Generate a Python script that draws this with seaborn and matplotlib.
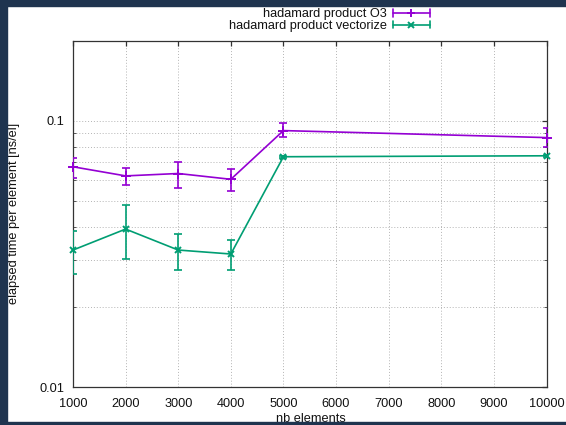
import numpy as np
import pandas as pd
import matplotlib
matplotlib.use("Agg")
import matplotlib.pyplot as plt
import seaborn as sns
from matplotlib.lines import Line2D
from matplotlib.legend_handler import HandlerBase
from matplotlib.patches import Rectangle
from matplotlib.ticker import FixedLocator, NullFormatter, FixedFormatter, LogLocator

# ---- data ----
nb_elements = [1000, 2000, 3000, 4000, 5000, 10000]
o3_time = [0.0672, 0.0621, 0.0634, 0.0603, 0.0919, 0.0865]
o3_low = [0.0609, 0.0572, 0.0561, 0.0545, 0.0872, 0.0795]
o3_high = [0.0728, 0.0665, 0.0698, 0.0662, 0.0980, 0.0938]
vec_time = [0.0327, 0.0392, 0.0327, 0.0316, 0.0733, 0.0739]
vec_low = [0.0265, 0.0302, 0.0275, 0.0275, 0.0727, 0.0733]
vec_high = [0.0386, 0.0481, 0.0377, 0.0357, 0.0740, 0.0745]
series_labels = ["hadamard product O3", "hadamard product vectorize"]
x_ticks = [1000, 2000, 3000, 4000, 5000, 6000, 7000, 8000, 9000, 10000]
y_ticks = [0.01, 0.1]
y_tick_labels = ["0.01", "0.1"]

PURPLE = "#9400D3"
GREEN = "#009E73"
NAVY = "#1f344f"
FS = 9.2

sns.set_style("white")
plt.rcParams["font.family"] = ["Liberation Sans", "DejaVu Sans"]

fig = plt.figure(figsize=(5.66, 4.25), dpi=100)
ax = fig.add_axes([73 / 566, 1 - 387 / 425, (546.5 - 73) / 566, (387 - 40.7) / 425])
ax.set_yscale("log")

df = pd.DataFrame({"x": nb_elements * 2,
                   "y": o3_time + vec_time,
                   "series": [series_labels[0]] * len(nb_elements) + [series_labels[1]] * len(nb_elements)})

styles = [(series_labels[0], PURPLE, "+", o3_time, o3_low, o3_high, 7),
          (series_labels[1], GREEN, "x", vec_time, vec_low, vec_high, 4.5)]

for lab, col, mk, y, lo, hi, ms in styles:
    sub = df[df["series"] == lab]
    sns.lineplot(data=sub, x="x", y="y", ax=ax, color=col, lw=1.2, marker=mk,
                 markersize=ms, markeredgewidth=1.4, markeredgecolor=col,
                 legend=False, clip_on=False, zorder=4)
    y = np.array(y); lo = np.array(lo); hi = np.array(hi)
    ax.errorbar(nb_elements, y, yerr=[y - lo, hi - y], fmt="none", ecolor=col,
                elinewidth=1.2, capsize=2.6, capthick=1.2, zorder=3)

ax.set_xlim(1000, 10000)
ax.set_ylim(0.01, 0.2)
ax.xaxis.set_major_locator(FixedLocator(x_ticks))
ax.set_xticklabels([str(t) for t in x_ticks])
ax.yaxis.set_major_locator(FixedLocator(y_ticks))
ax.yaxis.set_major_formatter(FixedFormatter(y_tick_labels))
ax.yaxis.set_minor_locator(LogLocator(base=10, subs=np.arange(2, 10)))
ax.yaxis.set_minor_formatter(NullFormatter())
ax.set_xlabel("")
ax.set_ylabel("")

ax.grid(True, which="major", axis="both", color="#b4b4b4", ls=(0, (1, 2)), lw=0.7)
ax.grid(True, which="minor", axis="y", color="#b4b4b4", ls=(0, (1, 2)), lw=0.7)
ax.tick_params(which="major", direction="in", length=3.5, width=0.9, color="#333333",
               top=True, right=True, labelsize=FS, labelcolor="#111111")
ax.tick_params(which="minor", direction="in", length=2, width=0.7, color="#555555",
               left=True, right=True)
ax.tick_params(axis="y", pad=6.5)
ax.tick_params(axis="x", pad=7.8)
for s in ax.spines.values():
    s.set_color("#333333")
    s.set_linewidth(0.9)
    s.set_visible(True)

fig.text(14.5 / 566, 1 - 213 / 425, "elapsed time per element [ns/el]", rotation=90,
         ha="center", va="center", fontsize=FS, color="#111111")
fig.text(311 / 566, 1 - 421.5 / 425, "nb elements", ha="center", va="baseline",
         fontsize=FS, color="#111111")


class GnuplotKeyHandler(HandlerBase):
    def __init__(self, color, marker, ms):
        super().__init__()
        self.color, self.marker, self.ms = color, marker, ms

    def create_artists(self, legend, orig_handle, xdescent, ydescent, width, height,
                       fontsize, trans):
        yc = height / 2 - ydescent
        x0, x1 = -xdescent, width - xdescent
        cap = 0.28 * fontsize
        arts = [Line2D([x0, x1], [yc, yc], color=self.color, lw=1.2),
                Line2D([x0, x0], [yc - cap, yc + cap], color=self.color, lw=1.2),
                Line2D([x1, x1], [yc - cap, yc + cap], color=self.color, lw=1.2),
                Line2D([(x0 + x1) / 2], [yc], color=self.color, marker=self.marker,
                       markersize=self.ms, markeredgewidth=1.4, ls="none")]
        for a in arts:
            a.set_transform(trans)
        return arts


h1 = Line2D([], [], color=PURPLE)
h2 = Line2D([], [], color=GREEN)
fig.legend([h1, h2], series_labels, loc="upper right", bbox_to_anchor=(430 / 566, 1 - 8.5 / 425),
           frameon=False, markerfirst=False, fontsize=FS, handlelength=2.9,
           handletextpad=0.45, labelspacing=-0.02, borderpad=0, borderaxespad=0,
           labelcolor="#111111",
           handler_map={h1: GnuplotKeyHandler(PURPLE, "+", 6),
                        h2: GnuplotKeyHandler(GREEN, "x", 4)})

# dark frame around the picture (as in the reference screenshot)
fig.patches.extend([
    Rectangle((0, 0), 7 / 566, 1, transform=fig.transFigure, color=NAVY, zorder=10),
    Rectangle((0, 1 - 6 / 425), 1, 6 / 425, transform=fig.transFigure, color=NAVY, zorder=10),
    Rectangle((0, 0), 1, 3 / 425, transform=fig.transFigure, color=NAVY, zorder=10),
])

fig.savefig("out.png", dpi=100)
